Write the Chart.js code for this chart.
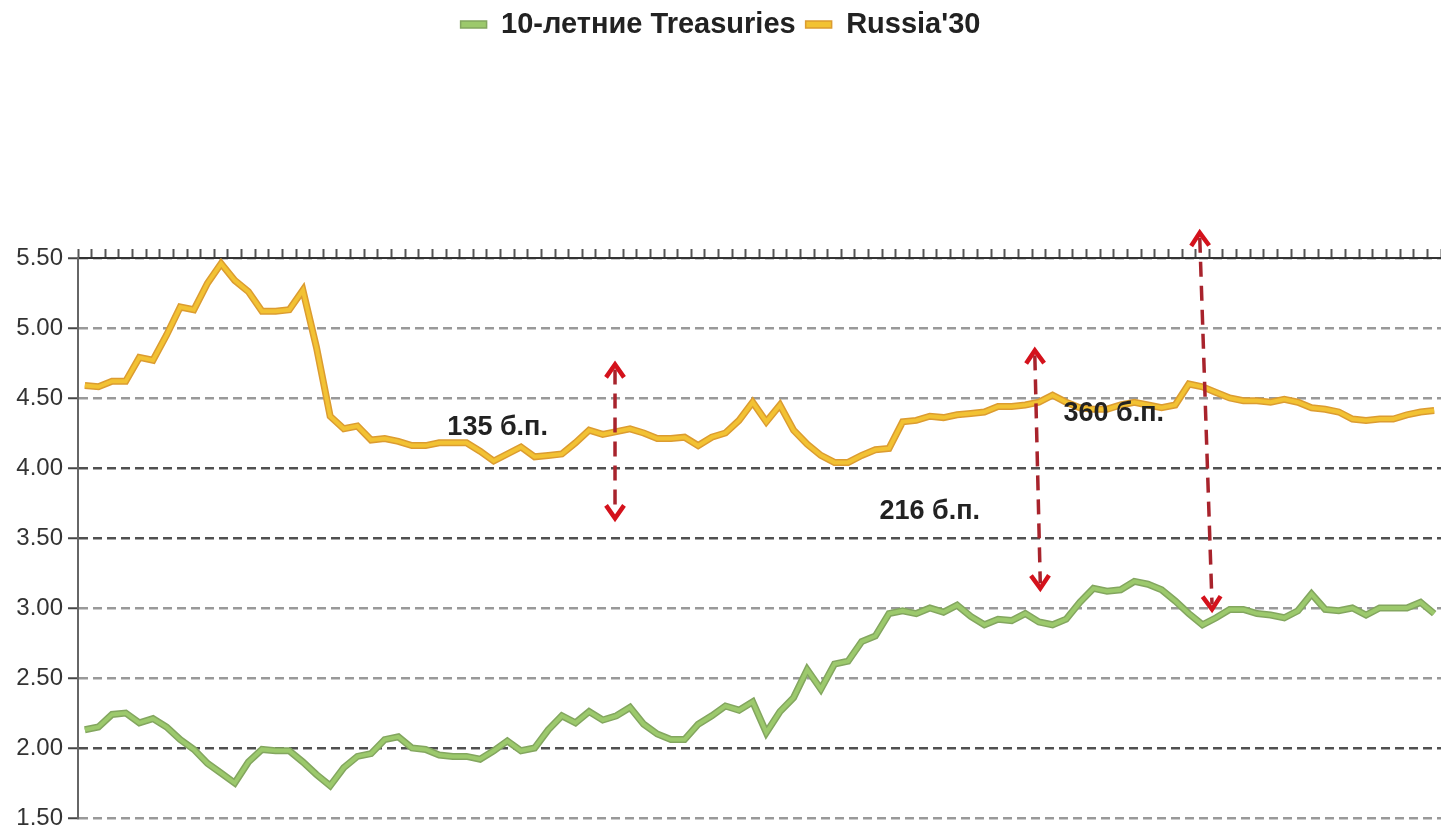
<!DOCTYPE html>
<html>
<head>
<meta charset="utf-8">
<script src="https://cdn.jsdelivr.net/npm/chart.js@4"></script>
<style>
  html, body { margin: 0; padding: 0; background: #fff; }
  #wrap { width: 1441px; height: 829px; }
</style>
</head>
<body>
<div id="wrap"><canvas id="yields"></canvas></div>
<script>
// weekly observations
const weeks = Array.from({ length: 100 }, (_, i) => 'нед. ' + (i + 1));

const treasuries10y = [
    2.13, 2.15, 2.24, 2.25, 2.18, 2.21, 2.15, 2.06, 1.99, 1.89,
    1.82, 1.75, 1.90, 1.99, 1.98, 1.98, 1.90, 1.81, 1.73, 1.86,
    1.94, 1.96, 2.06, 2.08, 2.00, 1.99, 1.95, 1.94, 1.94, 1.92,
    1.98, 2.05, 1.98, 2.00, 2.13, 2.23, 2.18, 2.26, 2.20, 2.23,
    2.29, 2.17, 2.10, 2.06, 2.06, 2.17, 2.23, 2.30, 2.27, 2.33,
    2.11, 2.26, 2.36, 2.56, 2.42, 2.60, 2.62, 2.76, 2.80, 2.96,
    2.98, 2.96, 3.00, 2.97, 3.02, 2.94, 2.88, 2.92, 2.91, 2.96,
    2.90, 2.88, 2.92, 3.04, 3.14, 3.12, 3.13, 3.19, 3.17, 3.13,
    3.05, 2.96, 2.88, 2.93, 2.99, 2.99, 2.96, 2.95, 2.93, 2.98,
    3.10, 2.99, 2.98, 3.00, 2.95, 3.00, 3.00, 3.00, 3.04, 2.96
];

const russia30 = [
    4.59, 4.58, 4.62, 4.62, 4.79, 4.77, 4.95, 5.15, 5.13, 5.32,
    5.46, 5.34, 5.26, 5.12, 5.12, 5.13, 5.27, 4.86, 4.37, 4.28,
    4.30, 4.20, 4.21, 4.19, 4.16, 4.16, 4.18, 4.18, 4.18, 4.12,
    4.05, 4.10, 4.15, 4.08, 4.09, 4.10, 4.18, 4.27, 4.24, 4.26,
    4.28, 4.25, 4.21, 4.21, 4.22, 4.16, 4.22, 4.25, 4.34, 4.47,
    4.33, 4.45, 4.27, 4.17, 4.09, 4.04, 4.04, 4.09, 4.13, 4.14,
    4.33, 4.34, 4.37, 4.36, 4.38, 4.39, 4.40, 4.44, 4.44, 4.45,
    4.47, 4.52, 4.47, 4.43, 4.42, 4.42, 4.45, 4.47, 4.45, 4.43,
    4.45, 4.60, 4.58, 4.54, 4.50, 4.48, 4.48, 4.47, 4.49, 4.47,
    4.43, 4.42, 4.40, 4.35, 4.34, 4.35, 4.35, 4.38, 4.40, 4.41
];

const yTicks = [1.5, 2.0, 2.5, 3.0, 3.5, 4.0, 4.5, 5.0, 5.5];

// spread labels and arrows, in (week index, yield) coordinates
const spreadNotes = [
    { text: '135 б.п.', at: 26.6, y: 4.29 },
    { text: '216 б.п.', at: 58.3, y: 3.69 },
    { text: '360 б.п.', at: 71.8, y: 4.39 }
];
const spreadArrows = [
    { from: [38.9, 4.74], to: [38.9, 3.64] },
    { from: [69.7, 4.84], to: [70.1, 3.14] },
    { from: [81.8, 5.68], to: [82.7, 2.99] }
];

const FONT = "'Liberation Sans', Arial, sans-serif";
const darkGrid = [2.0, 3.5, 4.0];

let chevron = (ctx, x, y, dx, dy) => {
    // open arrow head pointing along (dx, dy)
    const len = Math.hypot(dx, dy);
    const ux = dx / len, uy = dy / len;
    const px = -uy, py = ux;
    ctx.beginPath();
    ctx.moveTo(x - ux * 13 + px * 9, y - uy * 13 + py * 9);
    ctx.lineTo(x, y);
    ctx.lineTo(x - ux * 13 - px * 9, y - uy * 13 - py * 9);
    ctx.stroke();
};

const spreadPlugin = {
    id: 'spreads',
    afterDraw(chart) {
        const { ctx, scales: { x, y } } = chart;
        ctx.save();
        spreadArrows.forEach(a => {
            const x1 = x.getPixelForValue(a.from[0]), y1 = y.getPixelForValue(a.from[1]);
            const x2 = x.getPixelForValue(a.to[0]), y2 = y.getPixelForValue(a.to[1]);
            ctx.strokeStyle = '#a8232c';
            ctx.lineWidth = 3.5;
            ctx.setLineDash([15, 9]);
            ctx.beginPath();
            ctx.moveTo(x1, y1 + 5);
            ctx.lineTo(x2, y2 - 5);
            ctx.stroke();
            ctx.setLineDash([]);
            ctx.strokeStyle = '#d4121c';
            ctx.lineWidth = 4.5;
            ctx.lineJoin = 'miter';
            chevron(ctx, x1, y1, x1 - x2, y1 - y2);
            chevron(ctx, x2, y2, x2 - x1, y2 - y1);
        });
        ctx.fillStyle = '#222';
        ctx.font = 'bold 27px ' + FONT;
        ctx.textAlign = 'left';
        ctx.textBaseline = 'middle';
        spreadNotes.forEach(n => {
            ctx.fillText(n.text, x.getPixelForValue(n.at), y.getPixelForValue(n.y));
        });
        ctx.restore();
    }
};

const lineSet = (label, data, color, width, order) => ({
    label,
    data,
    borderColor: color,
    backgroundColor: color,
    borderWidth: width,
    pointRadius: 0,
    tension: 0,
    order
});

new Chart(document.getElementById('yields'), {
    type: 'line',
    data: {
        labels: weeks,
        datasets: [
            lineSet('10-летние Treasuries', treasuries10y, '#9cc96c', 4, 0),
            lineSet("Russia'30", russia30, '#f2c233', 4, 0),
            lineSet('10-летние Treasuries', treasuries10y, '#83a65f', 7, 1),
            lineSet("Russia'30", russia30, '#dc9c30', 7, 1)
        ]
    },
    options: {
        responsive: true,
        maintainAspectRatio: false,
        animation: false,
        events: [],
        layout: { padding: { left: 0, right: 0, top: 0, bottom: 11 } },
        scales: {
            x: {
                position: 'top',
                offset: true,
                grid: {
                    offset: true,
                    drawOnChartArea: false,
                    drawTicks: true,
                    tickLength: 9,
                    tickWidth: 2,
                    tickColor: '#555'
                },
                border: { display: true, color: '#333', width: 2 },
                ticks: { display: false, autoSkip: false },
                afterFit: s => { s.height = 209; }
            },
            y: {
                min: 1.5,
                max: 5.5,
                afterBuildTicks: s => { s.ticks = yTicks.map(v => ({ value: v })); },
                grid: {
                    color: c => darkGrid.includes(c.tick && c.tick.value) ? '#505050' : '#999',
                    lineWidth: 2.5,
                    drawTicks: true,
                    tickLength: 10,
                    tickWidth: 2,
                    tickColor: '#444'
                },
                border: { display: true, color: '#666', width: 2, dash: [9, 5] },
                ticks: {
                    padding: 5,
                    color: '#333',
                    font: { family: FONT, size: 24 },
                    callback: v => v.toFixed(2)
                },
                afterFit: s => {
                    s.width = 78;
                    s.paddingTop = 0;
                    s.paddingBottom = 0;
                }
            }
        },
        plugins: {
            tooltip: { enabled: false },
            legend: {
                display: true,
                position: 'top',
                labels: {
                    boxWidth: 26,
                    boxHeight: 7,
                    padding: 10,
                    color: '#222',
                    font: { family: FONT, size: 29, weight: 'bold' },
                    filter: item => item.datasetIndex < 2,
                    generateLabels: chart => {
                        const items = Chart.defaults.plugins.legend.labels.generateLabels(chart);
                        const edges = ['#83a65f', '#dc9c30'];
                        return items.map(it => Object.assign(it, {
                            lineWidth: 1.5,
                            strokeStyle: edges[it.datasetIndex] || it.strokeStyle
                        }));
                    }
                }
            }
        }
    },
    plugins: [spreadPlugin]
});
</script>
</body>
</html>
